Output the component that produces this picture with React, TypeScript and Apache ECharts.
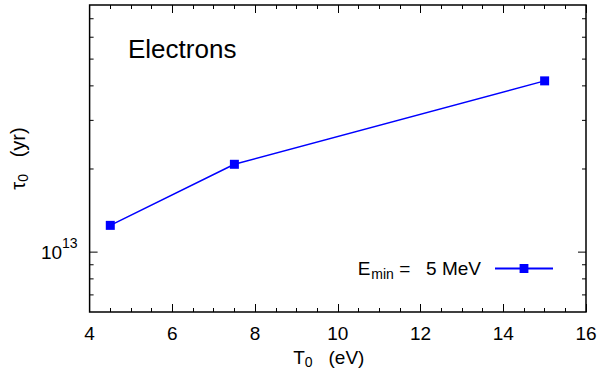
import React, { useEffect, useRef } from "react";
import * as echarts from "echarts";

const temperatures = [4.5, 7.5, 15];
const lifetimes = [1.25e13, 2.08e13, 4.17e13];
const xTicks = [4, 6, 8, 10, 12, 14, 16];
const yMajorTicks = [1e13];
const yMinorTicks = [7e12, 8e12, 9e12, 2e13, 3e13, 4e13, 5e13, 6e13, 7e13];
const seriesName = "Emin = 5 MeV";
const panelLabel = "Electrons";

const FONT = "Liberation Sans, Arial, Helvetica, sans-serif";
const BLUE = "#0000ff";

export default function App() {
  const ref = useRef<HTMLDivElement>(null);
  useEffect(() => {
    if (!ref.current) return;
    document.body.style.margin = "0";
    const chart = echarts.init(ref.current, undefined, { renderer: "svg" });
    const tickData = [
      ...yMajorTicks.map((v) => [xTicks[0], v, 1]),
      ...yMinorTicks.map((v) => [xTicks[0], v, 0]),
    ];
    const xMin = xTicks[0];
    const xMax = xTicks[xTicks.length - 1];
    const common = {
      type: "value",
      min: xMin,
      max: xMax,
      interval: 2,
      axisLine: { show: false },
      splitLine: { show: false },
      minorSplitLine: { show: false },
      axisTick: { show: true, inside: true, length: 8, lineStyle: { color: "#000", width: 1 } },
      minorTick: { show: true, splitNumber: 4, length: 4, lineStyle: { color: "#000", width: 1 } },
    };
    chart.setOption({
      animation: false,
      backgroundColor: "#fff",
      textStyle: { fontFamily: FONT },
      grid: {
        left: 86,
        right: 14,
        top: 5,
        bottom: 69,
        show: true,
        borderColor: "#000",
        borderWidth: 1.5,
        backgroundColor: "transparent",
      },
      legend: {
        data: [seriesName],
        right: 41,
        top: 254,
        align: "right",
        itemWidth: 58,
        itemHeight: 11,
        formatter: () => "{e|E}{m|min}{r| =   5 MeV}",
        textStyle: {
          fontFamily: FONT,
          color: "#000",
          rich: {
            e: { fontSize: 19, fontFamily: FONT, color: "#000" },
            m: { fontSize: 14, fontFamily: FONT, color: "#000", padding: [11, 0, 0, 1] },
            r: { fontSize: 19, fontFamily: FONT, color: "#000", padding: [0, 9, 0, 0] },
          },
        },
      },
      xAxis: [
        {
          ...common,
          position: "bottom",
          axisLabel: { show: true, fontSize: 19, color: "#000", margin: 12, fontFamily: FONT },
          name: "{t|T}{s|0}{t|   (eV)}",
          nameLocation: "middle",
          nameGap: 33,
          nameTextStyle: {
            padding: [0, 18, 0, 0],
            rich: {
              t: { fontSize: 19, fontFamily: FONT, color: "#000" },
              s: { fontSize: 14, fontFamily: FONT, color: "#000", padding: [10, 0, 0, 0] },
            },
          },
        },
        {
          ...common,
          position: "top",
          axisLabel: { show: false },
        },
      ],
      yAxis: {
        type: "log",
        logBase: 10,
        min: 6.07e12,
        max: 7.85e13,
        axisLine: { show: false },
        axisTick: { show: false },
        minorTick: { show: false },
        splitLine: { show: false },
        minorSplitLine: { show: false },
        axisLabel: {
          show: true,
          margin: 12,
          formatter: (v: number) =>
            Math.abs(Math.log10(v) - 13) < 1e-6 ? "{b|10}{s|13}" : "",
          rich: {
            b: { fontSize: 19, fontFamily: FONT, color: "#000" },
            s: { fontSize: 14, fontFamily: FONT, color: "#000", padding: [0, 0, 18, 0] },
          },
        },
        name: "{t|τ}{s|0}{t|   (yr)}",
        nameLocation: "middle",
        nameGap: 57,
        nameTextStyle: {
          rich: {
            t: { fontSize: 20, fontFamily: FONT, color: "#000" },
            s: { fontSize: 14, fontFamily: FONT, color: "#000", padding: [10, 0, 0, 0] },
          },
        },
      },
      graphic: [
        {
          type: "text",
          left: 128,
          top: 36,
          style: { text: panelLabel, fontSize: 26, fontFamily: FONT, fill: "#000" },
        },
      ],
      series: [
        {
          type: "custom",
          name: "yticks",
          xAxisIndex: 0,
          yAxisIndex: 0,
          silent: true,
          clip: false,
          encode: { x: 0, y: 1 },
          data: tickData,
          renderItem: (params: any, api: any) => {
            const v = api.value(1);
            const len = api.value(2) ? 8 : 4;
            const l = api.coord([xMin, v]);
            const r = api.coord([xMax, v]);
            return {
              type: "group",
              children: [
                { type: "line", shape: { x1: l[0], y1: l[1], x2: l[0] + len, y2: l[1] }, style: { stroke: "#000", lineWidth: 1 } },
                { type: "line", shape: { x1: r[0], y1: r[1], x2: r[0] - len, y2: r[1] }, style: { stroke: "#000", lineWidth: 1 } },
              ],
            };
          },
        },
        {
          type: "line",
          name: seriesName,
          xAxisIndex: 0,
          yAxisIndex: 0,
          data: temperatures.map((t, i) => [t, lifetimes[i]]),
          symbol: "rect",
          symbolSize: 9,
          lineStyle: { color: BLUE, width: 1.5 },
          itemStyle: { color: BLUE },
        },
      ],
    });
    return () => chart.dispose();
  }, []);
  return (
    <div
      ref={ref}
      style={{ width: 600, height: 381, position: "absolute", left: 0, top: 0 }}
    />
  );
}
